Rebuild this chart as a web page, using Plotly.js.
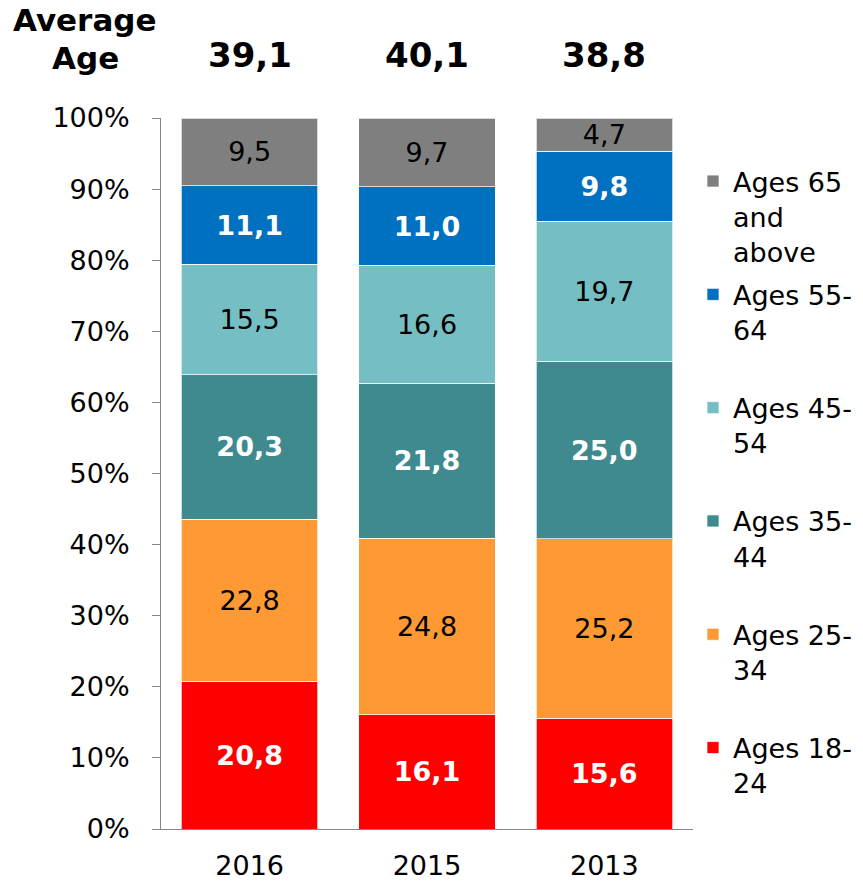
<!DOCTYPE html>
<html>
<head>
<meta charset="utf-8">
<script src="https://cdn.plot.ly/plotly-3.0.1.min.js"></script>
<style>html,body{margin:0;padding:0;background:#fff;}#chart{width:863px;height:885px;}</style>
</head>
<body>
<div id="chart"></div>
<script>
const years = ['2016', '2015', '2013'];
const averageAge = [39.1, 40.1, 38.8];
const ages18to24 = [20.8, 16.1, 15.6];
const ages25to34 = [22.8, 24.8, 25.2];
const ages35to44 = [20.3, 21.8, 25.0];
const ages45to54 = [15.5, 16.6, 19.7];
const ages55to64 = [11.1, 11.0, 9.8];
const ages65plus = [9.5, 9.7, 4.7];
const seriesNames = ['Ages 18-<br>24<br>\u00a0', 'Ages 25-<br>34<br>\u00a0', 'Ages 35-<br>44<br>\u00a0', 'Ages 45-<br>54<br>\u00a0', 'Ages 55-<br>64<br>\u00a0', 'Ages 65<br>and<br>above'];

const FONT = 'DejaVu Sans, Verdana, sans-serif';
const series = [ages18to24, ages25to34, ages35to44, ages45to54, ages55to64, ages65plus];
const colors = ['#FF0000', '#FF9933', '#3E8A8F', '#75BFC4', '#0070C0', '#7F7F7F'];
const whiteLabel = [true, false, true, false, true, false];

const fmt = v => v.toFixed(1).replace('.', ',');

const traces = series.map((vals, i) => ({
  type: 'bar',
  x: years,
  y: vals,
  name: seriesNames[i],
  legendgroup: 'g' + i,
  legendrank: 100 - i,
  marker: {color: colors[i], line: {color: 'rgba(255,255,255,0.7)', width: 1}},
  text: vals.map(fmt),
  textposition: 'inside',
  insidetextanchor: 'middle',
  constraintext: 'none',
  textangle: 0,
  textfont: {family: FONT, size: 27, color: whiteLabel[i] ? '#FFFFFF' : '#000000', weight: whiteLabel[i] ? 'bold' : 'normal'},
  hoverinfo: 'skip'
}));

const annotations = years.map((yr, i) => ({
  x: i, xref: 'x', y: 1.0886, yref: 'paper',
  text: '<b>' + fmt(averageAge[i]) + '</b>',
  showarrow: false, xanchor: 'center', yanchor: 'middle',
  font: {family: FONT, size: 34, color: '#000'}
}));
annotations.push({
  x: -0.142, xref: 'paper', y: (829.5 - 20) / 711.5, yref: 'paper',
  text: '<b>Average</b>', showarrow: false, xanchor: 'center', yanchor: 'middle',
  font: {family: FONT, size: 31, color: '#000'}
});
annotations.push({
  x: -0.142, xref: 'paper', y: (829.5 - 58) / 711.5, yref: 'paper',
  text: '<b>Age</b>', showarrow: false, xanchor: 'center', yanchor: 'middle',
  font: {family: FONT, size: 31, color: '#000'}
});

const layout = {
  width: 863, height: 885,
  margin: {l: 161, r: 167, t: 118, b: 55.5, pad: 0},
  barmode: 'stack',
  bargap: 0.23,
  separators: ', ',
  paper_bgcolor: '#fff', plot_bgcolor: '#fff',
  font: {family: FONT, size: 27, color: '#000'},
  xaxis: {
    type: 'category', range: [-0.5, 2.5],
    showline: true, linecolor: '#868686', linewidth: 1,
    ticks: '', showgrid: false, zeroline: false,
    ticklabelstandoff: 13,
    tickfont: {family: FONT, size: 27, color: '#000'}
  },
  yaxis: {
    range: [0, 100], dtick: 10, ticksuffix: '%',
    showline: true, linecolor: '#868686', linewidth: 1,
    ticks: 'outside', ticklen: 8, tickcolor: '#868686', tickwidth: 1,
    showgrid: false, zeroline: false,
    ticklabelstandoff: 17,
    tickfont: {family: FONT, size: 27, color: '#000'}
  },
  showlegend: true,
  legend: {
    x: 693 / 863, xref: 'container', xanchor: 'left',
    y: 1 - 157 / 885, yref: 'container', yanchor: 'top',
    traceorder: 'grouped', tracegroupgap: 5,
    valign: 'top',
    maxheight: 860,
    font: {family: FONT, size: 27, color: '#000'},
    bgcolor: 'rgba(0,0,0,0)', borderwidth: 0
  },
  annotations: annotations
};

Plotly.newPlot('chart', traces, layout, {displayModeBar: false, staticPlot: true});
</script>
</body>
</html>
